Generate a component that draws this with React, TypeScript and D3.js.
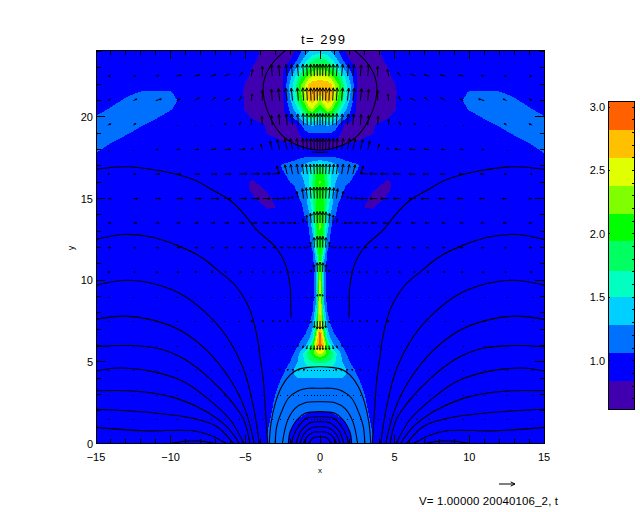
import React from "react";
import * as d3 from "d3";

const W = 640, H = 512;
const titleText = "t= 299";
const footerText = "V= 1.00000 20040106_2, t";
const xTicks = [-15, -10, -5, 0, 5, 10, 15];
const yTicks = [0, 5, 10, 15, 20];
const barTicks = [1.0, 1.5, 2.0, 2.5, 3.0];

// contour levels (lower band edges) and band colours
const levels = [0.62, 0.84, 1.06, 1.28, 1.5, 1.71, 1.94, 2.16, 2.38, 2.6, 2.82, 3.04];
const bandColors = ["#4000b0", "#0000ff", "#0070ff", "#00d0ff", "#00ffc0", "#00ff60", "#00ff00", "#80ff00", "#e0ff00", "#ffc000", "#ff6000"];

// density field, right half (mirrored about x = 0)
const rhoX = [0, .25, .5, .75, 1, 1.25, 1.5, 1.75, 2, 2.5, 3, 3.5, 4, 4.5, 5, 5.5, 6];
const rhoY = d3.range(0, 25, 0.5);
const rho = [
  [.95,.95,.95,.95,.95,.95,.95,.98,1.03,1.12,1.12,1.08,.96,.95,.95,.95,.95],
  [.95,.95,.95,.95,.95,.95,.96,1.0,1.05,1.14,1.13,1.07,.96,.95,.95,.95,.95],
  [.95,.95,.95,.95,.96,.97,.98,1.03,1.08,1.16,1.14,1.05,.95,.95,.95,.95,.95],
  [.98,.98,.99,1.0,1.02,1.04,1.06,1.09,1.12,1.18,1.14,1.02,.95,.95,.95,.95,.95],
  [1.07,1.07,1.07,1.08,1.09,1.11,1.13,1.15,1.17,1.18,1.12,.98,.95,.95,.95,.95,.95],
  [1.13,1.13,1.13,1.14,1.14,1.15,1.16,1.18,1.19,1.19,1.09,.96,.95,.95,.95,.95,.95],
  [1.17,1.17,1.17,1.18,1.18,1.18,1.19,1.2,1.22,1.2,1.06,.95,.95,.95,.95,.95,.95],
  [1.22,1.22,1.22,1.22,1.23,1.23,1.24,1.24,1.25,1.17,.99,.95,.95,.95,.95,.95,.95],
  [1.27,1.27,1.27,1.28,1.28,1.28,1.28,1.27,1.26,1.08,.96,.95,.95,.95,.95,.95,.95],
  [1.42,1.42,1.42,1.41,1.4,1.38,1.35,1.29,1.18,1.0,.95,.95,.95,.95,.95,.95,.95],
  [1.75,1.75,1.72,1.65,1.52,1.4,1.28,1.15,1.06,.96,.95,.95,.95,.95,.95,.95,.95],
  [2.45,2.3,2.05,1.85,1.6,1.42,1.2,1.07,.98,.95,.95,.95,.95,.95,.95,.95,.95],
  [2.95,2.65,1.95,1.5,1.25,1.13,1.05,.97,.95,.95,.95,.95,.95,.95,.95,.95,.95],
  [2.98,2.4,1.45,1.2,1.1,1.03,.97,.95,.95,.95,.95,.95,.95,.95,.95,.95,.95],
  [2.85,2.0,1.3,1.1,.98,.95,.95,.95,.95,.95,.95,.95,.95,.95,.95,.95,.95],
  [2.8,1.7,1.15,1.0,.95,.95,.95,.95,.95,.95,.95,.95,.95,.95,.95,.95,.95],
  [2.75,1.5,1.07,.96,.95,.95,.95,.95,.95,.95,.95,.95,.95,.95,.95,.95,.95],
  [2.72,1.35,.97,.95,.95,.95,.95,.95,.95,.95,.95,.95,.95,.95,.95,.95,.95],
  [2.7,1.3,.96,.95,.95,.95,.95,.95,.95,.95,.95,.95,.95,.95,.95,.95,.95],
  [2.65,1.27,.96,.95,.95,.95,.95,.95,.95,.95,.95,.95,.95,.95,.95,.95,.95],
  [2.55,1.27,.96,.95,.95,.95,.95,.95,.95,.95,.95,.95,.95,.95,.95,.95,.95],
  [2.5,1.27,.96,.95,.95,.95,.95,.95,.95,.95,.95,.95,.95,.95,.95,.95,.95],
  [2.35,1.28,.96,.95,.95,.95,.95,.95,.95,.95,.95,.95,.95,.95,.95,.95,.95],
  [2.2,1.45,1.0,.95,.95,.95,.95,.95,.95,.95,.95,.95,.95,.95,.95,.95,.95],
  [2.2,1.7,1.1,.97,.95,.95,.95,.95,.95,.95,.95,.95,.95,.95,.95,.95,.95],
  [2.2,1.8,1.2,1.0,.95,.95,.95,.95,.95,.95,.95,.95,.95,.95,.95,.95,.95],
  [2.2,1.88,1.3,1.03,.97,.95,.95,.95,.95,.95,.95,.95,.95,.95,.95,.95,.95],
  [2.2,1.95,1.45,1.1,.98,.95,.95,.95,.95,.95,.95,.95,.95,.95,.95,.95,.95],
  [2.2,1.95,1.5,1.25,1.09,.98,.95,.95,.95,.95,.92,.95,.95,.95,.95,.95,.95],
  [2.1,1.95,1.6,1.33,1.15,1.02,.95,.95,.95,.92,.83,.8,.92,.95,.95,.95,.95],
  [2.05,1.95,1.7,1.4,1.2,1.1,1.02,.96,.95,.95,.92,.76,.76,.9,.95,.95,.95],
  [2.1,2.0,1.72,1.45,1.27,1.15,1.08,1.02,.97,.95,.95,.88,.76,.78,.92,.95,.95],
  [2.2,2.02,1.72,1.47,1.3,1.2,1.13,1.08,1.06,.96,.95,.95,.9,.8,.88,.95,.95],
  [2.1,1.95,1.68,1.48,1.36,1.28,1.2,1.14,1.12,1.03,.95,.95,.95,.93,.95,.95,.95],
  [1.75,1.65,1.55,1.45,1.35,1.26,1.2,1.16,1.14,1.09,.97,.95,.95,.95,.95,.95,.95],
  [1.07,1.07,1.07,1.07,1.07,1.05,1.03,1.0,.98,.96,.95,.95,.95,.95,.95,.95,.95],
  [.84,.84,.84,.85,.86,.87,.88,.89,.9,.92,.93,.95,.95,.95,.95,.95,.95],
  [.8,.8,.8,.8,.8,.8,.81,.82,.83,.84,.88,.92,.93,.95,.95,.95,.95],
  [1.06,1.06,1.06,1.05,1.0,.9,.8,.76,.75,.76,.79,.83,.88,.92,.94,.95,.95],
  [1.25,1.28,1.3,1.28,1.18,1.06,.88,.8,.76,.75,.77,.82,.87,.9,.93,.95,.95],
  [1.6,1.68,1.8,1.78,1.6,1.42,1.25,1.12,1.0,.77,.75,.76,.78,.82,.87,.93,.95],
  [2.0,2.15,2.4,2.3,2.0,1.75,1.5,1.3,1.12,.78,.74,.74,.75,.78,.83,.92,.95],
  [2.32,2.55,2.7,2.62,2.3,2.05,1.75,1.48,1.25,.8,.73,.73,.73,.76,.82,.92,.95],
  [2.66,2.78,2.84,2.72,2.42,2.2,1.85,1.55,1.33,.8,.73,.72,.72,.75,.81,.92,.95],
  [2.75,2.75,2.72,2.62,2.38,2.15,1.8,1.55,1.33,.8,.74,.73,.73,.76,.83,.93,.95],
  [2.45,2.42,2.38,2.25,2.05,1.85,1.6,1.42,1.2,.83,.75,.75,.76,.8,.88,.95,.95],
  [2.1,2.08,2.0,1.85,1.68,1.5,1.33,1.15,1.02,.81,.77,.77,.78,.83,.92,.95,.95],
  [1.78,1.76,1.68,1.55,1.38,1.22,1.08,.92,.84,.8,.79,.79,.81,.88,.95,.95,.95],
  [1.42,1.4,1.35,1.27,1.18,1.06,.9,.83,.81,.81,.81,.81,.83,.92,.95,.95,.95],
  [1.15,1.13,1.1,1.05,1.0,.93,.84,.82,.81,.81,.81,.82,.84,.93,.95,.95,.95],
];

// side lobe of the density field (right side, mirrored)
const lobeX = [9, 10, 11, 12, 13, 14, 15];
const lobeY = [17.5, 18, 18.5, 19, 19.5, 20, 20.5, 21, 21.5, 22, 22.5];
const lobe = [
  [.95,.95,.95,.95,.95,.95,1.015],
  [.95,.95,.95,.95,.95,1.0,1.09],
  [.95,.95,.95,.95,1.0,1.075,1.165],
  [.95,.95,.95,1.0,1.08,1.15,1.2],
  [.95,.95,1.0,1.075,1.16,1.2,1.14],
  [.95,1.0,1.08,1.15,1.2,1.15,1.07],
  [.95,1.075,1.16,1.2,1.165,1.075,.99],
  [.95,1.15,1.15,1.14,1.09,1.0,.95],
  [.95,1.075,1.075,1.07,1.015,.95,.95],
  [.95,1.0,1.0,.99,.95,.95,.95],
  [.95,.95,.95,.95,.95,.95,.95],
];

// velocity vectors, right half; u > 0 points away from x = 0
const velX = [0,.18,.38,.6,.85,1.1,1.45,1.84,2.2,2.7,3.2,3.86,4.6,5.4,6.4,7.3,8.4,9.6,11,12.5,14.2];
const velY = [1.5, 3, 4.5, 6, 7.5, 9, 10.5, 12, 13.5, 15, 16.5, 18, 19.5, 21, 22.5];
const velU = [
  [0,0,0,0,0,0,0,0,0,0,0,0,0,0,0,0,0,0,0,0,0],
  [0,0,0,0,0,0,0,0,0,0,0,0,0,0,0,0,0,0,0,0,0],
  [0,0,-.02,-.03,-.05,-.06,-.07,-.07,-.08,-.06,-.03,-.03,-.03,-.03,-.03,-.03,-.02,-.02,-.02,-.02,-.02],
  [0,.01,.02,.03,.05,.06,.05,.04,-.05,-.06,-.06,-.05,-.05,-.05,-.04,-.04,-.03,-.03,-.03,-.03,-.03],
  [0,0,0,.02,-.02,-.04,-.05,-.06,-.07,-.07,-.07,-.07,-.07,-.06,-.06,-.06,-.06,-.05,-.05,-.05,-.05],
  [0,0,0,0,-.02,-.03,-.04,-.04,-.05,-.05,-.05,-.05,-.05,-.05,-.05,-.05,-.05,-.05,-.06,-.06,-.06],
  [0,.01,.02,.02,-.03,-.05,-.06,-.08,-.1,-.1,-.12,-.12,-.12,-.12,-.12,-.12,-.12,-.12,-.12,-.12,-.12],
  [0,.01,.02,.03,-.05,-.1,-.15,-.2,-.2,-.22,-.22,-.22,-.2,-.2,-.2,-.18,-.18,-.18,-.17,-.17,-.17],
  [0,.01,.02,.04,.05,.05,-.05,-.2,-.25,-.3,-.3,-.38,-.35,-.3,-.25,-.25,-.22,-.2,-.2,-.2,-.18],
  [0,.02,.03,.05,.07,.08,.1,.05,-.15,-.35,-.45,-.5,-.5,-.45,-.42,-.5,-.42,-.38,-.3,-.25,-.2],
  [0,.02,.03,.05,.07,.08,.1,.12,.14,.18,-.45,-.5,-.5,-.48,-.42,-.38,-.32,-.25,-.25,-.15,-.08],
  [0,.01,.02,.03,.04,.06,.1,.13,.16,.15,.13,.1,-.1,-.35,-.38,-.32,-.25,-.2,-.15,-.05,-.05],
  [0,0,.01,.01,.02,.03,.04,.05,.05,.05,.05,.03,-.02,-.08,-.08,-.03,-.02,-.02,-.05,-.15,-.18],
  [0,.01,.02,.03,.04,.05,.06,.08,.09,.08,.05,0,-.05,-.1,-.3,-.3,-.3,-.2,-.35,-.22,-.15],
  [0,.01,.02,.03,.04,.05,.06,.07,.07,.06,.05,0,-.08,-.2,-.3,-.3,-.3,-.28,-.2,-.17,-.15],
];
const velV = [
  [.01,.01,.01,.01,.01,.01,.01,.01,.01,.01,.01,.01,.01,.01,.01,.01,.01,.01,.01,.01,.01],
  [.01,.01,.01,.01,.01,.01,.01,.01,.01,.01,.01,.01,.01,.01,.01,.01,.01,.01,.01,.01,.01],
  [.02,.02,.02,.02,.02,.02,.02,.02,.02,.02,.01,.01,.01,.01,.01,.01,.01,.01,.01,.01,.01],
  [-.25,-.25,-.25,-.25,-.22,-.15,-.05,-.02,-.01,0,0,0,0,0,0,0,0,0,0,0,0],
  [-.5,-.5,-.42,-.1,-.02,0,0,0,0,0,0,0,0,0,0,0,0,0,0,0,0],
  [.15,.12,.05,.02,0,0,0,0,0,0,0,0,0,0,0,0,0,0,0,0,0],
  [.62,.58,.45,.1,.02,0,0,0,0,0,0,0,0,0,0,0,0,0,0,0,0],
  [.7,.7,.62,.35,.05,0,0,0,0,0,0,0,0,0,0,0,0,0,0,0,0],
  [.72,.72,.7,.62,.5,.25,.03,0,0,0,0,0,0,0,0,0,0,0,0,0,0],
  [.72,.72,.72,.72,.68,.62,.45,.12,.03,.02,0,0,0,0,0,0,0,0,0,0,0],
  [.62,.62,.62,.62,.62,.62,.62,.6,.58,.5,.05,.02,.02,.02,.01,.01,.01,.01,.01,.01,.01],
  [.7,.7,.7,.7,.7,.7,.7,.7,.68,.62,.55,.35,.1,.03,.02,.02,.01,.01,0,0,0],
  [.72,.72,.72,.72,.72,.72,.7,.7,.7,.66,.6,.55,.35,.2,.1,.04,.04,.03,.03,.1,.08],
  [.8,.8,.8,.8,.8,.8,.8,.78,.78,.75,.72,.65,.4,.25,.15,.2,.18,.1,.1,.1,.08],
  [.75,.75,.75,.75,.75,.75,.75,.73,.72,.7,.75,.62,.42,.25,.13,.1,.08,.06,.04,.02,.01],
];

// field lines, traced on the left half as [x, y]
const openLines: [number, number][][] = [
  [[-10,0],[-8.9,.15],[-8,.15],[-7.1,0]],
  [[-15,.99],[-11.8,.78],[-8.5,.78],[-7.4,.52],[-6.25,0]],
  [[-15,2.1],[-11.4,1.9],[-8.5,1.54],[-6.9,1.03],[-5.8,0]],
  [[-15,3.23],[-12.3,3.2],[-10,2.87],[-7.8,2.05],[-6.25,1.03],[-5.4,0]],
  [[-15,4.44],[-13.5,4.62],[-11.2,4.4],[-9.15,3.8],[-7.4,2.66],[-6,1.44],[-5.1,0]],
  [[-15,5.93],[-12.95,6.0],[-10.9,5.83],[-9.15,5.2],[-7.4,3.99],[-6,2.66],[-5.1,1.44],[-4.7,0]],
  [[-15,7.6],[-13.2,7.8],[-11.4,7.6],[-9.4,6.95],[-7.6,5.72],[-6,3.9],[-5,2.05],[-4.4,0]],
  [[-15,9.7],[-13,10],[-11.2,9.8],[-9.4,9.2],[-7.6,7.97],[-6.25,6.54],[-5.1,4.5],[-4.46,2.25],[-4.06,0]],
  [[-15,12.5],[-13.2,12.8],[-11.4,12.66],[-9.6,12.15],[-8,11.44],[-6.7,10.5],[-5.6,9.6],[-4.7,8.2],[-4.2,6.5],[-4.0,5.2],[-3.8,3.9],[-3.64,1.85],[-3.5,0]],
  [[-15,16.8],[-12.95,16.95],[-10.7,16.7],[-8.5,16.17],[-7.14,15.5],[-6,14.88],[-5.13,14.1],[-4.24,13.08],[-3,12.05],[-2.34,11.03],[-2,9.6],[-1.96,8.4],[-1.94,7.7]],
];
const closedLines: [number, number][][] = [
  [[-3.4,0],[-3.28,1.24],[-3,2.46],[-2.57,3.48],[-2,4.2],[-1.45,4.54],[-.78,4.66],[0,4.7]],
  [[-3,0],[-2.9,1.03],[-2.57,1.95],[-2.12,2.77],[-1.45,3.23],[-.78,3.38],[0,3.38]],
  [[-2.52,0],[-2.2,1.34],[-1.67,2.15],[-1,2.5],[0,2.56]],
  [[-2.12,0],[-2,.72],[-1.56,1.44],[-1,1.85],[0,1.95]],
  [[-1.9,0],[-1.8,.4],[-1.4,1.1],[-.9,1.55],[0,1.64]],
  [[-1.6,0],[-1.25,.8],[-.7,1.25],[0,1.34]],
  [[-1.35,0],[-1.1,.55],[-.6,.95],[0,1.03]],
  [[-1.1,0],[-.95,.3],[-.55,.65],[0,.72]],
  [[-.75,0],[-.45,.35],[0,.41]],
  [[-1.5,24.6],[-2.34,24.05],[-3.1,23.38],[-3.68,22.46],[-3.8,21.44],[-3.24,19.8],[-2.45,18.8],[-1.56,18.3],[0,17.97]],
  [[-.55,17.85],[0,17.82]],
];

const x = d3.scaleLinear().domain([-15, 15]).range([96, 544]);
const y = d3.scaleLinear().domain([0, 24.1]).range([443.5, 50]);
const barY = d3.scaleLinear().domain([1, 3]).range([360.7, 107]);

function bands(values: number[][], xs: number[], ys: number[], mirrorFull: boolean, thresholds: number[], sign = 1) {
  const fullX = mirrorFull ? [...xs.slice(1).map(v => -v).reverse(), ...xs] : xs;
  const nx = fullX.length, ny = ys.length;
  const flat: number[] = [];
  values.forEach(row => {
    const full = mirrorFull ? [...row.slice(1).reverse(), ...row] : row;
    full.forEach(v => flat.push(sign * v));
  });
  const ix = d3.scaleLinear().domain(fullX.map((_, i) => i + 0.5)).range(fullX).clamp(true);
  const iy = d3.scaleLinear().domain(ys.map((_, i) => i + 0.5)).range(ys).clamp(true);
  const gen = d3.contours().size([nx, ny]).smooth(true).thresholds(thresholds.map(t => t * sign));
  const tr = d3.geoTransform({
    point(this: any, a: number, b: number) { this.stream.point(x(ix(a)), y(iy(b))); },
  });
  const path = d3.geoPath(tr);
  return gen(flat).map(c => path(c as any) || "");
}

const curve = d3.line<[number, number]>().x(d => x(d[0])).y(d => y(d[1])).curve(d3.curveCatmullRom.alpha(0.5));

const ink = "#000";

function Arrow({ x0, y0, dx, dy }: { x0: number; y0: number; dx: number; dy: number }) {
  const len = Math.hypot(dx, dy);
  if (len < 1) return <rect x={Math.round(x0)} y={Math.round(y0)} width={1} height={1} fill={ink} shapeRendering="crispEdges" />;
  const x1 = x0 + dx, y1 = y0 + dy;
  const a = Math.atan2(dy, dx);
  const h = Math.max(1.5, len * 0.3);
  const p = (t: number) => `${x1 - h * Math.cos(a + t)},${y1 - h * Math.sin(a + t)}`;
  return <path d={`M${x0},${y0}L${x1},${y1}M${p(0.45)}L${x1},${y1}L${p(-0.45)}`} fill="none" stroke={ink} strokeWidth={1} />;
}

export default function App() {
  const pxPerV = 16;
  const mainUp = bands(rho, rhoX, rhoY, true, levels.slice(2, 11));
  const purple = bands(rho, rhoX, rhoY, true, [0.84], -1);
  const lobeR = bands(lobe, lobeX, lobeY, false, [1.06]);
  const lobeL = bands(lobe.map(r => [...r].reverse()), [...lobeX].reverse().map(v => -v), lobeY, false, [1.06]);

  const font = "'Liberation Sans', Arial, sans-serif";
  const xMinor = d3.range(-15, 16, 1);
  const yMinor = d3.range(0, 25, 1);
  const barMinor = d3.range(7, 31).map(v => v / 10);

  return (
    <svg width={W} height={H} viewBox={`0 0 ${W} ${H}`} style={{ position: "absolute", left: 0, top: 0, background: "#fff" }}>
      <defs>
        <clipPath id="frame"><rect x={96} y={50} width={448} height={393.5} /></clipPath>
        <clipPath id="barclip"><rect x={608} y={101.7} width={26} height={307.6} /></clipPath>
      </defs>
      <g clipPath="url(#frame)">
        <rect x={96} y={50} width={448} height={394} fill={bandColors[1]} />
        <g shapeRendering="crispEdges">
          {purple.map((d, i) => <path key={i} d={d} fill={bandColors[0]} />)}
          {lobeR.map((d, i) => <path key={"r" + i} d={d} fill={bandColors[2]} />)}
          {lobeL.map((d, i) => <path key={"l" + i} d={d} fill={bandColors[2]} />)}
          {mainUp.map((d, i) => <path key={"m" + i} d={d} fill={bandColors[i + 2]} />)}
        </g>
        <g fill="none" stroke={ink} strokeWidth={1.1}>
          {openLines.map((l, i) => (
            <g key={i}>
              <path d={curve(l) || ""} />
              <path d={curve(l.map(p => [-p[0], p[1]] as [number, number])) || ""} />
            </g>
          ))}
          {closedLines.map((l, i) => {
            const full = [...l, ...l.slice(0, -1).reverse().map(p => [-p[0], p[1]] as [number, number])];
            return <path key={i} d={curve(full) || ""} />;
          })}
        </g>
        {velY.map((vy, r) => velX.map((vx, c) => {
          const u = velU[r][c] * pxPerV, v = velV[r][c] * pxPerV;
          return (
            <g key={`${r}-${c}`}>
              <Arrow x0={x(vx)} y0={y(vy)} dx={u} dy={-v} />
              {vx > 0 && <Arrow x0={x(-vx)} y0={y(vy)} dx={-u} dy={-v} />}
            </g>
          );
        }))}
      </g>

      <g stroke={ink} strokeWidth={1} shapeRendering="crispEdges" fill="none">
        <rect x={96} y={50} width={448} height={393.5} />
        {xMinor.map(t => {
          const m = t % 5 === 0 ? 9 : 4.5;
          return <g key={t}><line x1={x(t)} x2={x(t)} y1={443.5} y2={443.5 - m} /><line x1={x(t)} x2={x(t)} y1={50} y2={50 + m} /></g>;
        })}
        {yMinor.map(t => {
          const m = t % 5 === 0 ? 9 : 4.5;
          return <g key={t}><line x1={96} x2={96 + m} y1={y(t)} y2={y(t)} /><line x1={544} x2={544 - m} y1={y(t)} y2={y(t)} /></g>;
        })}
      </g>

      <g fontFamily={font} fontSize={11} fill={ink}>
        {xTicks.map(t => <text key={t} x={x(t)} y={461} textAnchor="middle">{t < 0 ? `\u2212${-t}` : t}</text>)}
        {yTicks.map(t => <text key={t} x={93} y={y(t) + 4} textAnchor="end">{t}</text>)}
        <text x={320} y={473} fontSize={8} textAnchor="middle">x</text>
        <text transform="translate(74,248) rotate(-90)" fontSize={9} textAnchor="middle">y</text>
        <text x={323} y={44} fontSize={13} textAnchor="middle" textLength={44} lengthAdjust="spacing">{titleText}</text>
        <text x={419} y={504.5} fontSize={11.5} textLength={139} lengthAdjust="spacing">{footerText}</text>
      </g>

      <Arrow x0={499} y0={484} dx={16} dy={0} />

      <g clipPath="url(#barclip)" shapeRendering="crispEdges">
        {bandColors.map((c, i) => {
          const top = barY(levels[i + 1]), bot = barY(levels[i]);
          return <rect key={c} x={608} y={top} width={26} height={bot - top} fill={c} />;
        })}
      </g>
      <g stroke={ink} strokeWidth={1} fill="none" shapeRendering="crispEdges">
        <rect x={608} y={101.7} width={26} height={307.6} />
        {barMinor.map(t => <line key={t} x1={634} x2={632} y1={barY(t)} y2={barY(t)} />)}
        {barTicks.map(t => <line key={t} x1={608} x2={610} y1={barY(t)} y2={barY(t)} />)}
      </g>
      <g fontFamily={font} fontSize={11} fill={ink}>
        {barTicks.map(t => <text key={t} x={605} y={barY(t) + 4} textAnchor="end">{t.toFixed(1)}</text>)}
      </g>
    </svg>
  );
}
